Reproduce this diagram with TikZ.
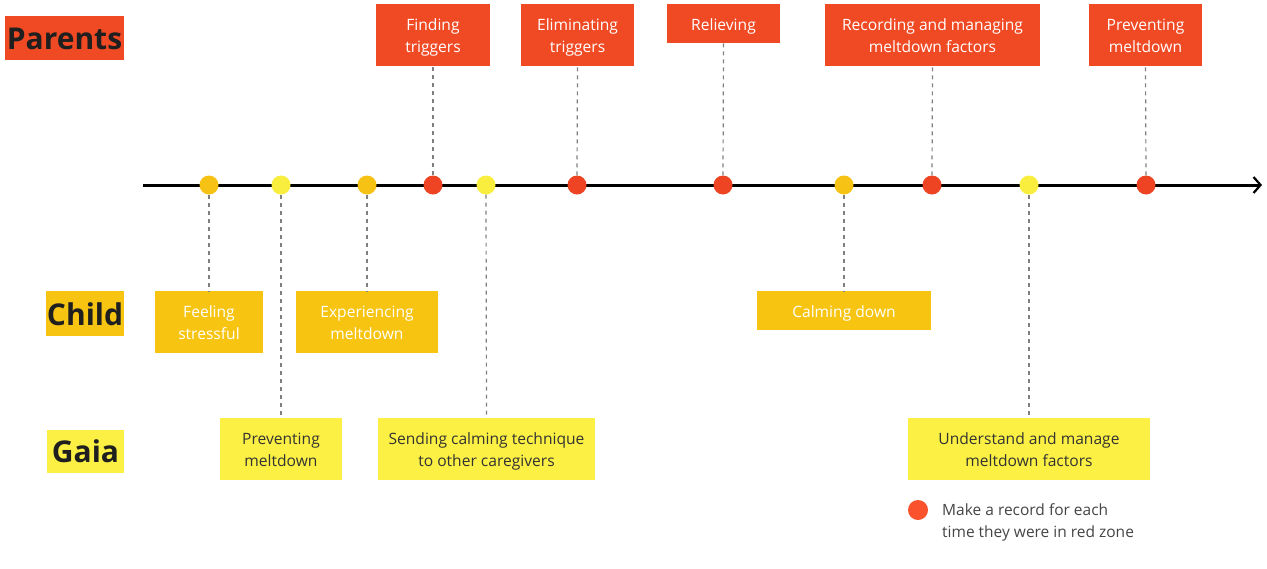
\documentclass[tikz,border=0pt]{standalone}
\usepackage{fontspec}
\setmainfont{Open Sans}
\usetikzlibrary{arrows.meta}
\definecolor{pred}{HTML}{F04A25}
\definecolor{corange}{HTML}{F7C412}
\definecolor{gyellow}{HTML}{FBF043}
\definecolor{dred}{HTML}{EE4424}
\definecolor{lred}{HTML}{F9522D}
\definecolor{dorange}{HTML}{F6C214}
\definecolor{dyellow}{HTML}{F9EE3E}
\definecolor{txtgray}{HTML}{333333}
\definecolor{legray}{HTML}{444444}
\definecolor{dashgray}{HTML}{808080}
\newcommand{\bt}[1]{\raisebox{-2.5pt}[\height][\depth]{\begin{tabular}{@{}c@{}}#1\end{tabular}}}
\newcommand{\rl}[1]{\raisebox{-1pt}[\height][\depth]{#1}}
\tikzset{
  box/.style={inner sep=0pt, font=\fontsize{15.6}{22}\selectfont},
  pbox/.style={box, fill=pred, text=white},
  cbox/.style={box, fill=corange, text=white},
  gbox/.style={box, fill=gyellow, text=txtgray},
  rolelabel/.style={inner sep=0pt, font=\fontsize{30}{34}\selectfont\bfseries, text=black!88},
  dot/.style={circle, inner sep=0pt, minimum size=19pt},
  conn/.style={draw=dashgray, line width=1.2pt, dash pattern=on 4pt off 4pt},
}
\begin{document}
\begin{tikzpicture}[x=1pt, y=-1pt]
\useasboundingbox (0,0) rectangle (1267,568);
% role labels
\node[rolelabel, fill=pred, minimum width=119pt, minimum height=44pt] (lp) at (64.5,38) {\rl{Parents}};
\node[rolelabel, fill=corange, minimum width=78pt, minimum height=45pt] (lc) at (85,313.5) {\rl{Child}};
\node[rolelabel, fill=gyellow, minimum width=77pt, minimum height=43pt] (lg) at (85.5,451.5) {Gaia};
% parents boxes
\node[pbox, minimum width=114pt, minimum height=62pt] (p1) at (433,35) {\bt{Finding\\triggers}};
\node[pbox, minimum width=113pt, minimum height=62pt] (p2) at (577.5,35) {\bt{Eliminating\\triggers}};
\node[pbox, minimum width=113pt, minimum height=39pt] (p3) at (723.5,23.5) {\bt{Relieving}};
\node[pbox, minimum width=215pt, minimum height=62pt] (p4) at (932.5,35) {\bt{Recording and managing\\meltdown factors}};
\node[pbox, minimum width=113pt, minimum height=62pt] (p5) at (1145.5,35) {\bt{Preventing\\meltdown}};
% child boxes
\node[cbox, minimum width=108pt, minimum height=62pt] (c1) at (209,322) {\bt{Feeling\\stressful}};
\node[cbox, minimum width=142pt, minimum height=62pt] (c2) at (367,322) {\bt{Experiencing\\meltdown}};
\node[cbox, minimum width=174pt, minimum height=39pt] (c3) at (844,310.5) {\bt{Calming down}};
% gaia boxes
\node[gbox, minimum width=122pt, minimum height=62pt] (g1) at (281,449) {\bt{Preventing\\meltdown}};
\node[gbox, minimum width=217pt, minimum height=62pt] (g2) at (486.5,449) {\bt{Sending calming technique\\to other caregivers}};
\node[gbox, minimum width=242pt, minimum height=62pt] (g3) at (1029,449) {\bt{Understand and manage\\meltdown factors}};
% timeline
\coordinate (a0) at (143,185);
\coordinate (a1) at (1262,185);
\draw[line width=3pt, -{Straight Barb[length=7pt,width=16pt,line width=2.2pt]}] (a0) -- (a1);
% dots
\node[dot, fill=dorange] (d1) at (209,185) {};
\node[dot, fill=dyellow] (d2) at (281,185) {};
\node[dot, fill=dorange] (d3) at (367,185) {};
\node[dot, fill=dred] (d4) at (433,185) {};
\node[dot, fill=dyellow] (d5) at (486,185) {};
\node[dot, fill=dred] (d6) at (577,185) {};
\node[dot, fill=dred] (d7) at (723,185) {};
\node[dot, fill=dorange] (d8) at (844,185) {};
\node[dot, fill=dred] (d9) at (932,185) {};
\node[dot, fill=dyellow] (d10) at (1029,185) {};
\node[dot, fill=dred] (d11) at (1146,185) {};
% connectors
\draw[conn] (d4.north) -- (p1.south);
\draw[conn] (d6.north) -- (p2.south);
\draw[conn] (d7.north) -- (p3.south);
\draw[conn] (d9.north) -- (p4.south);
\draw[conn] (d11.north) -- (p5.south);
\draw[conn] (d1.south) -- (c1.north);
\draw[conn] (d3.south) -- (c2.north);
\draw[conn] (d8.south) -- (c3.north);
\draw[conn] (d2.south) -- (g1.north);
\draw[conn] (d5.south) -- (g2.north);
\draw[conn] (d10.south) -- (g3.north);
% legend
\node[dot, fill=lred, minimum size=20pt] (ld) at (918,510) {};
\node[anchor=north west, inner sep=0pt, align=left, text=legray, font=\fontsize{15.5}{22}\selectfont] (lt) at (942,503.5) {Make a record for each\\time they were in red zone};
\end{tikzpicture}
\end{document}
